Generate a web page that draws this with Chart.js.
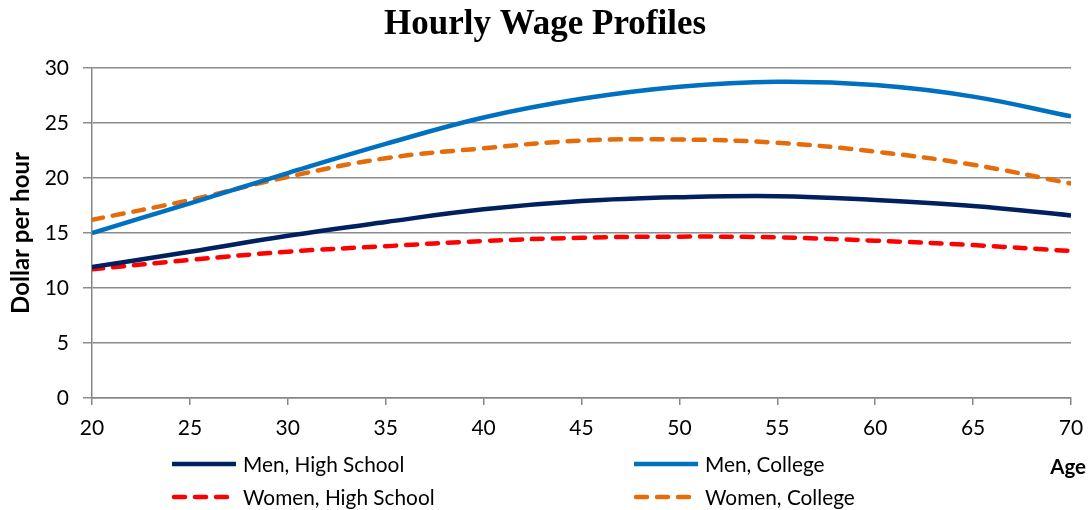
<!DOCTYPE html>
<html>
<head>
<meta charset="utf-8">
<script src="https://cdn.jsdelivr.net/npm/chart.js@4"></script>
<style>
  html, body { margin: 0; padding: 0; background: #fff; }
  #wrap { width: 1090px; height: 510px; }
</style>
</head>
<body>
<div id="wrap"><canvas id="chart"></canvas></div>
<script>
// Values, one point every 5 years of age
const ages = [20, 25, 30, 35, 40, 45, 50, 55, 60, 65, 70];
const menHighSchool = [11.9, 13.3, 14.75, 16.0, 17.15, 17.9, 18.25, 18.35, 18.0, 17.45, 16.6];
const menCollege = [15.0, 17.7, 20.45, 23.1, 25.5, 27.2, 28.3, 28.75, 28.45, 27.4, 25.6];
const womenHighSchool = [11.7, 12.55, 13.3, 13.8, 14.27, 14.57, 14.67, 14.6, 14.3, 13.9, 13.36];
const womenCollege = [16.2, 18.0, 20.1, 21.8, 22.7, 23.4, 23.5, 23.2, 22.4, 21.2, 19.5];

const yTicks = [0, 5, 10, 15, 20, 25, 30];
const xTicks = [20, 25, 30, 35, 40, 45, 50, 55, 60, 65, 70];

const FONT = 'Lato, "Open Sans", sans-serif';

function points(vals) {
  return ages.map((a, i) => ({ x: a, y: vals[i] }));
}

function series(label, vals, color, dashed) {
  return {
    label: label,
    data: points(vals),
    borderColor: color,
    backgroundColor: color,
    borderWidth: 4.5,
    borderDash: dashed ? [11, 10] : [],
    borderCapStyle: dashed ? 'round' : 'butt',
    pointRadius: 0,
    tension: 0.4,
    fill: false
  };
}

// legend in two columns plus the "Age" caption, drawn like the original
const legendSlots = [
  { x: 172, y: 464 },
  { x: 634, y: 464 },
  { x: 172, y: 497 },
  { x: 634, y: 497 }
];

const extras = {
  id: 'extras',
  afterDraw(chart) {
    const ctx = chart.ctx;
    ctx.save();
    chart.data.datasets.forEach((ds, i) => {
      const s = legendSlots[i];
      ctx.beginPath();
      ctx.strokeStyle = ds.borderColor;
      ctx.lineWidth = 4.5;
      ctx.lineCap = ds.borderCapStyle;
      ctx.setLineDash(ds.borderDash);
      ctx.moveTo(s.x + (ds.borderDash.length ? 2 : 0), s.y);
      ctx.lineTo(s.x + 64, s.y);
      ctx.stroke();
      ctx.setLineDash([]);
      ctx.fillStyle = '#000';
      ctx.font = '20.8px ' + FONT;
      ctx.textBaseline = 'middle';
      ctx.textAlign = 'left';
      ctx.fillText(ds.label, s.x + 71, s.y + 1);
    });
    ctx.font = 'bold 20.5px ' + FONT;
    ctx.textAlign = 'right';
    ctx.textBaseline = 'middle';
    ctx.fillText('Age', 1086, 467);
    ctx.restore();
  }
};

new Chart(document.getElementById('chart'), {
  type: 'line',
  data: {
    datasets: [
      series('Men, High School', menHighSchool, '#002060', false),
      series('Men, College', menCollege, '#0070C0', false),
      series('Women, High School', womenHighSchool, '#FF0000', true),
      series('Women, College', womenCollege, '#E46C0A', true)
    ]
  },
  options: {
    responsive: true,
    maintainAspectRatio: false,
    animation: false,
    layout: { padding: 0 },
    plugins: {
      legend: { display: false },
      tooltip: { enabled: false },
      title: {
        display: true,
        text: 'Hourly Wage Profiles',
        color: '#000',
        font: { family: '"Liberation Serif", "Times New Roman", serif', size: 35, weight: 'bold' },
        padding: { top: 4, bottom: 22 }
      }
    },
    scales: {
      x: {
        type: 'linear',
        min: 20,
        max: 70,
        afterFit(scale) {
          scale.height = 112;
          scale.paddingLeft = 0;
          scale.paddingRight = 19;
        },
        afterBuildTicks(scale) { scale.ticks = xTicks.map(v => ({ value: v })); },
        border: { display: true, color: '#868686', width: 1.5 },
        grid: { drawOnChartArea: false, drawTicks: true, tickLength: 7, color: '#868686', lineWidth: 1.5 },
        ticks: { color: '#000', font: { family: FONT, size: 21 }, padding: 11, maxRotation: 0 }
      },
      y: {
        min: 0,
        max: 30,
        afterFit(scale) {
          scale.width = 92;
          scale.paddingTop = 0;
          scale.paddingBottom = 0;
        },
        afterBuildTicks(scale) { scale.ticks = yTicks.map(v => ({ value: v })); },
        border: { display: true, color: '#868686', width: 1.5 },
        grid: { drawTicks: true, tickLength: 9, color: '#8c8c8c', lineWidth: 1.5 },
        ticks: { color: '#000', font: { family: FONT, size: 21 }, padding: 14 },
        title: {
          display: true,
          text: 'Dollar per hour',
          color: '#000',
          font: { family: FONT, size: 24, weight: 'bold' },
          padding: { top: 7, bottom: 0 }
        }
      }
    }
  },
  plugins: [extras]
});
</script>
</body>
</html>
